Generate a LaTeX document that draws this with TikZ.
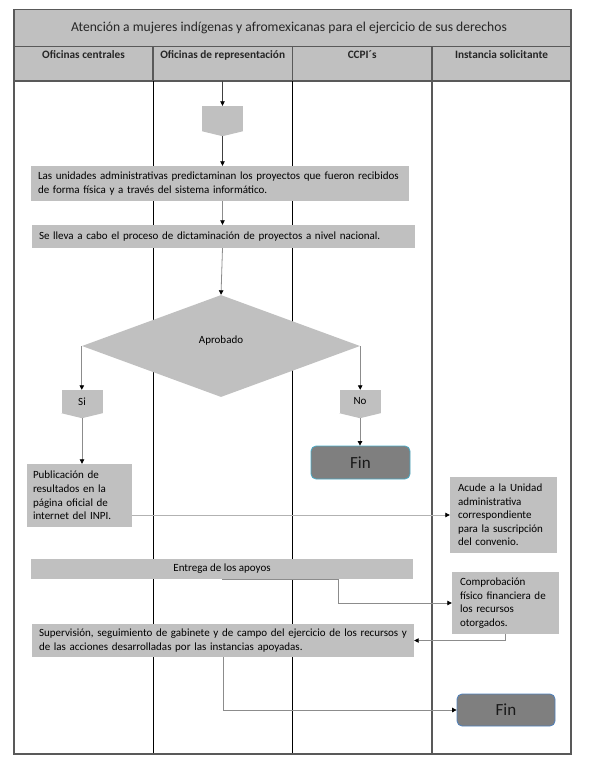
\documentclass[tikz,border=0pt]{standalone}
\usepackage{fontspec}
\setmainfont{Carlito}
\usetikzlibrary{shapes.geometric,arrows.meta,calc}
\definecolor{boxgray}{HTML}{C0C0C0}
\definecolor{framegray}{HTML}{595959}
\definecolor{fingray}{HTML}{7F7F7F}
\definecolor{finedgeA}{HTML}{4BACC6}
\definecolor{finedgeB}{HTML}{4F81BD}
\definecolor{linegray}{HTML}{8C8C8C}
\tikzset{
  frameline/.style={draw=framegray,line width=1.3pt},
  laneline/.style={draw=black,line width=0.8pt},
  procbox/.style={fill=boxgray,draw=none,font=\fontsize{11}{13.6}\selectfont,inner sep=0pt,anchor=center},
  textbox/.style={procbox,align=left,inner xsep=7pt},
  conn/.style={draw=linegray,line width=0.8pt,-{Triangle[length=4.5pt,width=4.5pt,fill=black,color=black]}},
  finbox/.style={fill=fingray,rounded corners=5pt,line width=0.8pt,minimum width=99pt,minimum height=33pt,font=\fontsize{17}{20}\selectfont,text=black!90},
  headtxt/.style={font=\bfseries\fontsize{11.3}{13}\selectfont,anchor=north,text=black!85},
  pentbox/.style={fill=boxgray,minimum width=41pt,inner sep=0pt,font=\fontsize{11}{13}\selectfont},
}
\begin{document}
\begin{tikzpicture}[x=1pt,y=-1pt]
\useasboundingbox (0,0) rectangle (590,776);
% table frame
\fill[boxgray] (14,9.5) rectangle (571,81);
\draw[frameline] (14,46.5) -- (571,46.5);
\draw[frameline] (14,81) -- (571,81);
\foreach \xx in {153,292.5,432} \draw[frameline] (\xx,46.5) -- (\xx,81);
\draw[laneline] (153,81) -- (153,754);
\draw[laneline] (292.5,81) -- (292.5,754);
\draw[frameline] (432,81) -- (432,754);
\draw[frameline] (14,9.5) rectangle (571,754);
\node[font=\fontsize{13.6}{16}\selectfont,text=black!85] (title) at (289,28) {Atención a mujeres indígenas y afromexicanas para el ejercicio de sus derechos};
\node[headtxt] (h1) at (83.5,47.5) {Oficinas centrales};
\node[headtxt] (h2) at (222.7,47.5) {Oficinas de representación};
\node[headtxt] (h3) at (362.2,47.5) {CCPI´s};
\node[headtxt] (h4) at (501.5,47.5) {Instancia solicitante};
% top connector
\coordinate (start) at (222.5,81);
\node[pentbox,minimum height=25pt] (pent) at (222.5,118.5) {};
\fill[boxgray] (pent.south west) -- ($(pent.south)+(0,5)$) -- (pent.south east) -- cycle;
\coordinate (penttip) at ($(pent.south)+(0,5)$);
% boxes
\node[textbox,minimum width=378pt,minimum height=35pt,text width=364pt] (b1) at (220,183.5)
 {\mbox{Las unidades administrativas predictaminan los proyectos que fueron recibidos}\\\mbox{de forma física y a través del sistema informático.}};
\node[textbox,minimum width=383pt,minimum height=23pt,text width=369pt] (b2) at (223.5,236.5)
 {\mbox{Se lleva a cabo el proceso de dictaminación de proyectos a nivel nacional.}};
\node[diamond,fill=boxgray,minimum width=278pt,minimum height=102pt,inner sep=0pt] (dia) at (221,346) {};
\node[font=\fontsize{11}{13}\selectfont] (aprob) at (221,341) {Aprobado};
\node[pentbox,minimum height=23pt] (si) at (82,401.5) {Si};
\fill[boxgray] (si.south west) -- ($(si.south)+(0,5)$) -- (si.south east) -- cycle;
\coordinate (sitip) at ($(si.south)+(0,5)$);
\node[pentbox,minimum height=23pt] (no) at (360,401.5) {No};
\fill[boxgray] (no.south west) -- ($(no.south)+(0,5)$) -- (no.south east) -- cycle;
\coordinate (notip) at ($(no.south)+(0,5)$);
\node[finbox,draw=finedgeA] (fin1) at (360.5,462.5) {Fin};
\node[textbox,minimum width=105pt,minimum height=63pt,text width=93pt,inner xsep=6pt] (pub) at (79.5,495.5)
 {\mbox{Publicación de}\\\mbox{resultados en la}\\\mbox{página oficial de}\\\mbox{internet del INPI.}};
\node[textbox,minimum width=107pt,minimum height=76pt,text width=91pt,inner xsep=8pt] (acude) at (503.5,515)
 {\mbox{Acude a la Unidad}\\\mbox{administrativa}\\\mbox{correspondiente}\\\mbox{para la suscripción}\\\mbox{del convenio.}};
\node[procbox,minimum width=382pt,minimum height=20pt] (ent) at (222,569) {Entrega de los apoyos};
\node[textbox,minimum width=107pt,minimum height=62pt,text width=91pt,inner xsep=8pt] (comp) at (505.5,603)
 {\mbox{Comprobación}\\\mbox{físico financiera de}\\\mbox{los recursos}\\\mbox{otorgados.}};
\node[textbox,minimum width=382pt,minimum height=33pt,text width=368pt] (sup) at (223,640.5)
 {\mbox{Supervisión, seguimiento de gabinete y de campo del ejercicio de los recursos y}\\\mbox{de las acciones desarrolladas por las instancias apoyadas.}};
\node[finbox,draw=finedgeB,minimum width=98pt,minimum height=32pt] (fin2) at (506,710) {Fin};
% connectors
\draw[conn,draw=black!75] (start) -- (pent.north);
\draw[conn,draw=black!75] (penttip) -- (penttip |- b1.north);
\draw[conn] (penttip |- b1.south) -- (penttip |- b2.north);
\draw[conn] (penttip |- b2.south) -- (dia.north);
\draw[conn] (dia.west) -- (dia.west |- si.north);
\draw[conn] (dia.east) -- (dia.east |- no.north);
\draw[conn] (sitip) -- (sitip |- pub.north);
\draw[conn] (notip) -- (notip |- fin1.north);
\draw[conn,draw=black!30] (acude.west -| pub.east) -- (acude.west);
\draw[conn] (ent.south) -- ++(116,0) |- (comp.west);
\draw[conn] (comp.south) |- (sup.east);
\draw[conn] (sup.south) |- (fin2.west);
\end{tikzpicture}
\end{document}
